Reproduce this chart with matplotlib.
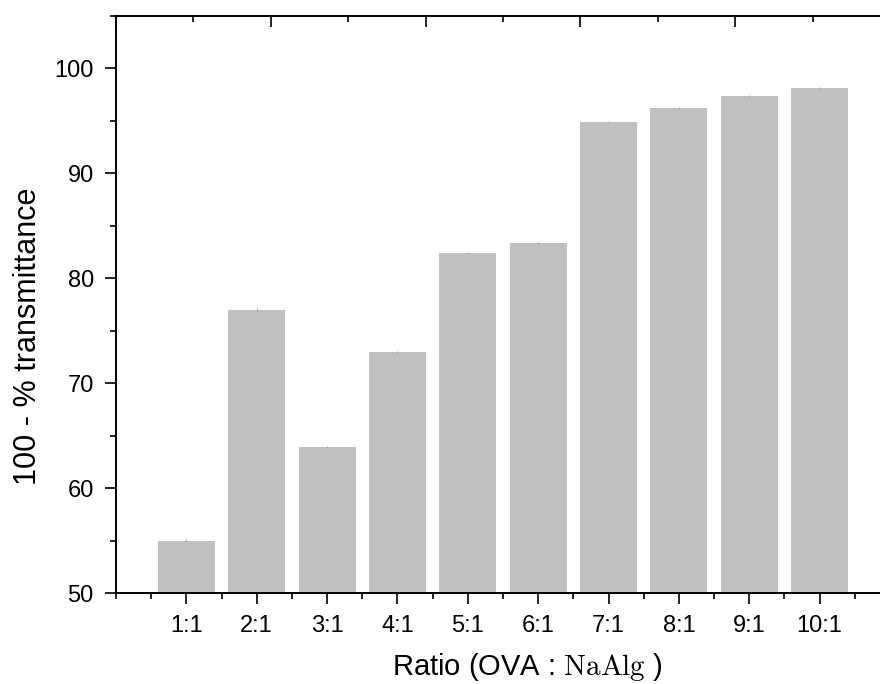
import numpy as np
import matplotlib
matplotlib.use('Agg')
import matplotlib.pyplot as plt
from matplotlib.ticker import MultipleLocator

plt.rcParams['font.family'] = ['Liberation Sans', 'DejaVu Sans']
plt.rcParams['mathtext.fontset'] = 'cm'

# data
ratios = ['1:1', '2:1', '3:1', '4:1', '5:1', '6:1', '7:1', '8:1', '9:1', '10:1']
values = [55.0, 77.0, 63.9, 73.0, 82.4, 83.4, 94.9, 96.2, 97.4, 98.1]
errors = [0.1, 0.15, 0.1, 0.1, 0.1, 0.1, 0.1, 0.1, 0.1, 0.1]

fig = plt.figure(figsize=(8.8, 6.84), dpi=100)
# axes run past the right edge (the original picture is cropped there)
ax = fig.add_axes([116 / 880, 91 / 684, 774 / 880, 577 / 684])

pos = np.arange(1, len(ratios) + 1)
ax.bar(pos, values, width=0.81, color='#c0c0c0', zorder=2)
ax.errorbar(pos, values, yerr=errors, fmt='none', ecolor='#a8a8a8',
            elinewidth=0.8, capsize=0, zorder=3)

ax.set_xlim(0, 11)
ax.set_ylim(50, 105)
ax.set_xticks(pos)
ax.set_xticklabels(ratios)
ax.xaxis.set_minor_locator(MultipleLocator(0.5))
ax.yaxis.set_major_locator(MultipleLocator(10))
ax.yaxis.set_minor_locator(MultipleLocator(5))

for s in ax.spines.values():
    s.set_linewidth(1.2)

ax.tick_params(axis='both', which='major', direction='out', length=8,
               width=1.2, labelsize=17, top=False, right=False)
ax.tick_params(axis='both', which='minor', direction='out', length=4,
               width=1.2, top=False, right=False)
ax.tick_params(axis='x', which='major', pad=8)
ax.tick_params(axis='y', which='major', pad=8)

ax.set_ylabel('100 - % transmittance', fontsize=22)
ax.set_xlabel(r'Ratio (OVA : $\mathrm{NaAlg}$ )', fontsize=21)
ax.yaxis.set_label_coords(-0.094, 0.444)
ax.xaxis.set_label_coords(0.531, -0.100)

# top axis with its own tick spacing
top = ax.twiny()
top.set_xlim(0, 5)
top.xaxis.set_major_locator(MultipleLocator(1))
top.xaxis.set_minor_locator(MultipleLocator(0.5))
top.tick_params(axis='x', which='major', direction='in', length=8, width=1.2,
                labeltop=False)
top.tick_params(axis='x', which='minor', direction='in', length=4, width=1.2)
for s in top.spines.values():
    s.set_linewidth(1.2)

fig.savefig('out.png', dpi=100)
